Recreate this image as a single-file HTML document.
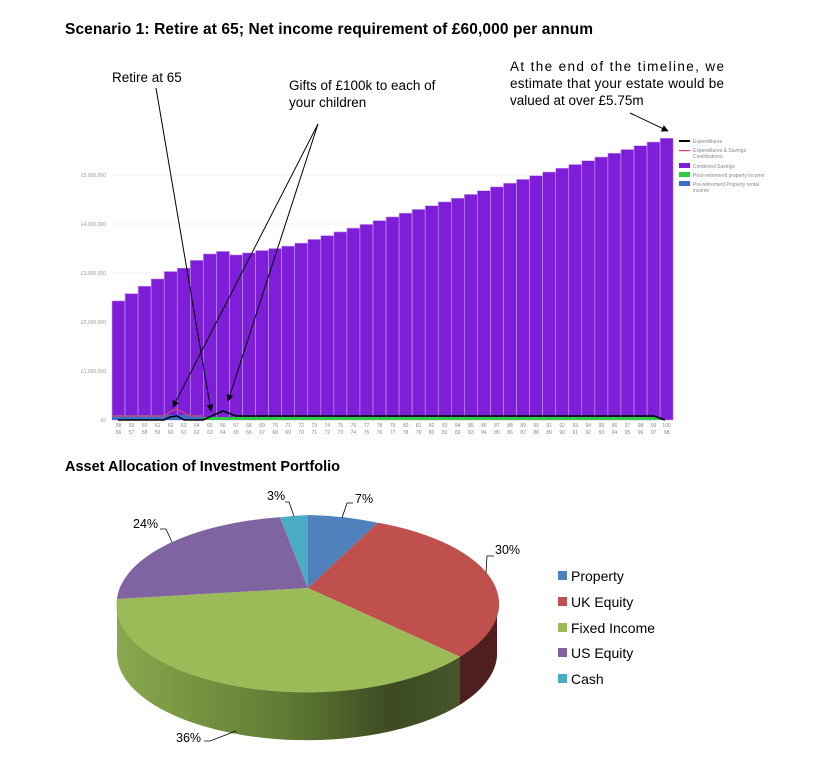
<!DOCTYPE html>
<html><head><meta charset="utf-8"><style>
html,body{margin:0;padding:0;background:#fff;width:813px;height:763px;overflow:hidden}
svg{display:block;font-family:"Liberation Sans",Arial,sans-serif}
</style></head><body>
<svg width="813" height="763" viewBox="0 0 813 763" xmlns="http://www.w3.org/2000/svg">
<defs>
<linearGradient id="fg" x1="0" x2="1" y1="0" y2="0">
<stop offset="0" stop-color="#8aa84e"/><stop offset="0.5" stop-color="#5f7a33"/><stop offset="0.8" stop-color="#3d4a22"/><stop offset="1" stop-color="#46562a"/></linearGradient>
<marker id="ah" viewBox="0 0 10 10" refX="9" refY="5" markerWidth="7" markerHeight="7" orient="auto"><path d="M0,0 L10,5 L0,10 Z" fill="#000"/></marker>
</defs>
<text x="65" y="34" font-size="15.5" font-weight="bold" textLength="528">Scenario 1: Retire at 65; Net income requirement of £60,000 per annum</text>
<text x="112" y="82" font-size="13.5">Retire at 65</text>
<text x="289" y="90" font-size="13.5">Gifts of £100k to each of</text>
<text x="289" y="107" font-size="13.5">your children</text>
<text x="510" y="71" font-size="13.5" textLength="214" lengthAdjust="spacing">At the end of the timeline, we</text>
<text x="510" y="88" font-size="13.5" textLength="214" lengthAdjust="spacing">estimate that your estate would be</text>
<text x="510" y="105" font-size="13.5">valued at over £5.75m</text>

<!-- grid -->
<g stroke="#eee" stroke-width="0.7">
<line x1="112" x2="673" y1="175" y2="175"/><line x1="112" x2="673" y1="224" y2="224"/><line x1="112" x2="673" y1="273" y2="273"/><line x1="112" x2="673" y1="322" y2="322"/><line x1="112" x2="673" y1="371" y2="371"/></g>
<g font-size="5" fill="#999" text-anchor="end">
<text x="106" y="177">£5,000,000</text><text x="106" y="226">£4,000,000</text><text x="106" y="275">£3,000,000</text><text x="106" y="324">£2,000,000</text><text x="106" y="373">£1,000,000</text><text x="106" y="422">£0</text></g>
<!-- bars -->
<g fill="#7e1ed8" stroke="#c8a2ee" stroke-width="0.6">
<rect x="112" y="300.9" width="13.05" height="119.1"/><rect x="125.05" y="293.6" width="13.05" height="126.4"/><rect x="138.1" y="286.2" width="13.05" height="133.8"/><rect x="151.15" y="278.9" width="13.05" height="141.1"/><rect x="164.2" y="271.5" width="13.05" height="148.5"/><rect x="177.25" y="268.1" width="13.05" height="151.9"/><rect x="190.3" y="260.3" width="13.05" height="159.7"/><rect x="203.35" y="253.9" width="13.05" height="166.1"/><rect x="216.4" y="251.4" width="13.05" height="168.6"/><rect x="229.45" y="254.9" width="13.05" height="165.1"/><rect x="242.5" y="252.9" width="13.05" height="167.1"/><rect x="255.55" y="250.5" width="13.05" height="169.5"/><rect x="268.6" y="248.5" width="13.05" height="171.5"/><rect x="281.65" y="246.1" width="13.05" height="173.9"/><rect x="294.7" y="243.1" width="13.05" height="176.9"/><rect x="307.75" y="239.4" width="13.05" height="180.6"/><rect x="320.8" y="235.6" width="13.05" height="184.4"/><rect x="333.85" y="231.9" width="13.05" height="188.1"/><rect x="346.9" y="228.1" width="13.05" height="191.9"/><rect x="359.95" y="224.4" width="13.05" height="195.6"/><rect x="373" y="220.6" width="13.05" height="199.4"/><rect x="386.05" y="216.9" width="13.05" height="203.1"/><rect x="399.1" y="213.1" width="13.05" height="206.9"/><rect x="412.15" y="209.4" width="13.05" height="210.6"/><rect x="425.2" y="205.7" width="13.05" height="214.3"/><rect x="438.25" y="201.9" width="13.05" height="218.1"/><rect x="451.3" y="198.2" width="13.05" height="221.8"/><rect x="464.35" y="194.4" width="13.05" height="225.6"/><rect x="477.4" y="190.7" width="13.05" height="229.3"/><rect x="490.45" y="186.9" width="13.05" height="233.1"/><rect x="503.5" y="183.2" width="13.05" height="236.8"/><rect x="516.55" y="179.4" width="13.05" height="240.6"/><rect x="529.6" y="175.7" width="13.05" height="244.3"/><rect x="542.65" y="172" width="13.05" height="248"/><rect x="555.7" y="168.2" width="13.05" height="251.8"/><rect x="568.75" y="164.5" width="13.05" height="255.5"/><rect x="581.8" y="160.7" width="13.05" height="259.3"/><rect x="594.85" y="157" width="13.05" height="263"/><rect x="607.9" y="153.2" width="13.05" height="266.8"/><rect x="620.95" y="149.5" width="13.05" height="270.5"/><rect x="634" y="145.7" width="13.05" height="274.3"/><rect x="647.05" y="142" width="13.05" height="278"/><rect x="660.1" y="138.2" width="13.05" height="281.8"/>
</g>
<rect x="112" y="415" width="92" height="5" fill="#3a6fd0"/>
<rect x="204" y="417" width="456" height="3" fill="#2ecc40"/>
<polyline points="112,416 165,416 171,411 177,409 184,413 190,416 204,416" fill="none" stroke="#e0406a" stroke-width="1.2"/>
<polyline points="118,420 164,420 170,417 177,416 184,420 203,420 216,414 223,411 236,416 654,416 665,420" fill="none" stroke="#000" stroke-width="1.6"/>
<g font-size="5" fill="#888" text-anchor="middle">
<text x="118.5" y="427">58</text><text x="131.5" y="427">59</text><text x="144.6" y="427">60</text><text x="157.7" y="427">61</text><text x="170.7" y="427">62</text><text x="183.8" y="427">63</text><text x="196.8" y="427">64</text><text x="209.9" y="427">65</text><text x="222.9" y="427">66</text><text x="236" y="427">67</text><text x="249" y="427">68</text><text x="262.1" y="427">69</text><text x="275.1" y="427">70</text><text x="288.2" y="427">71</text><text x="301.2" y="427">72</text><text x="314.3" y="427">73</text><text x="327.3" y="427">74</text><text x="340.4" y="427">75</text><text x="353.4" y="427">76</text><text x="366.5" y="427">77</text><text x="379.5" y="427">78</text><text x="392.6" y="427">79</text><text x="405.6" y="427">80</text><text x="418.7" y="427">81</text><text x="431.7" y="427">82</text><text x="444.8" y="427">83</text><text x="457.8" y="427">84</text><text x="470.9" y="427">85</text><text x="483.9" y="427">86</text><text x="497" y="427">87</text><text x="510" y="427">88</text><text x="523.1" y="427">89</text><text x="536.1" y="427">90</text><text x="549.2" y="427">91</text><text x="562.2" y="427">92</text><text x="575.3" y="427">93</text><text x="588.3" y="427">94</text><text x="601.4" y="427">95</text><text x="614.4" y="427">96</text><text x="627.5" y="427">97</text><text x="640.5" y="427">98</text><text x="653.6" y="427">99</text><text x="666.6" y="427">100</text>
<text x="118.5" y="434">56</text><text x="131.5" y="434">57</text><text x="144.6" y="434">58</text><text x="157.7" y="434">59</text><text x="170.7" y="434">60</text><text x="183.8" y="434">61</text><text x="196.8" y="434">62</text><text x="209.9" y="434">63</text><text x="222.9" y="434">64</text><text x="236" y="434">65</text><text x="249" y="434">66</text><text x="262.1" y="434">67</text><text x="275.1" y="434">68</text><text x="288.2" y="434">69</text><text x="301.2" y="434">70</text><text x="314.3" y="434">71</text><text x="327.3" y="434">72</text><text x="340.4" y="434">73</text><text x="353.4" y="434">74</text><text x="366.5" y="434">75</text><text x="379.5" y="434">76</text><text x="392.6" y="434">77</text><text x="405.6" y="434">78</text><text x="418.7" y="434">79</text><text x="431.7" y="434">80</text><text x="444.8" y="434">81</text><text x="457.8" y="434">82</text><text x="470.9" y="434">83</text><text x="483.9" y="434">84</text><text x="497" y="434">85</text><text x="510" y="434">86</text><text x="523.1" y="434">87</text><text x="536.1" y="434">88</text><text x="549.2" y="434">89</text><text x="562.2" y="434">90</text><text x="575.3" y="434">91</text><text x="588.3" y="434">92</text><text x="601.4" y="434">93</text><text x="614.4" y="434">94</text><text x="627.5" y="434">95</text><text x="640.5" y="434">96</text><text x="653.6" y="434">97</text><text x="666.6" y="434">98</text></g>
<!-- legend -->
<g font-size="5" fill="#888">
<rect x="679" y="140" width="11" height="2" fill="#000"/><text x="693" y="143">Expenditures</text>
<rect x="679" y="150" width="11" height="1.2" fill="#e0406a"/><text x="693" y="152">Expenditures &amp; Savings</text><text x="693" y="158">Contributions</text>
<rect x="679" y="163" width="11" height="5" fill="#7e1ed8"/><text x="693" y="168">Combined Savings</text>
<rect x="679" y="172" width="11" height="5" fill="#2ecc40"/><text x="693" y="177">Post-retirement property income</text>
<rect x="679" y="181" width="11" height="5" fill="#3a6fd0"/><text x="693" y="186">Pre-retirement Property rental</text><text x="693" y="192">income</text></g>
<!-- arrows -->
<g stroke="#000" stroke-width="1" fill="none" marker-end="url(#ah)">
<line x1="156" y1="88" x2="211" y2="411"/>
<line x1="318" y1="124" x2="173" y2="407"/>
<line x1="318" y1="124" x2="228" y2="401"/>
<line x1="630" y1="113" x2="668" y2="131"/>
</g>

<text x="65" y="471" font-size="14.5" font-weight="bold">Asset Allocation of Investment Portfolio</text>
<!-- pie -->
<path d="M497,602 A190 87 0 0 1 460,656.7 L460,704.7 A190 87 0 0 0 497,650 Z" fill="#4e1f1e"/>
<path d="M460,656.7 A190 87 0 0 1 117,602 L117,650 A190 87 0 0 0 460,704.7 Z" fill="url(#fg)"/>
<path d="M308,588 L308,515 A190 87 0 0 1 377.7,522.7 Z" fill="#4f81bd"/>
<path d="M308,588 L377.7,522.7 A190 87 0 0 1 460,656.7 Z" fill="#c0504d"/>
<path d="M308,588 L460,656.7 A190 87 0 0 1 117,599 Z" fill="#9bbb59"/>
<path d="M308,588 L117,599 A190 87 0 0 1 280,517.3 Z" fill="#8064a2"/>
<path d="M308,588 L280,517.3 A190 87 0 0 1 308,515 Z" fill="#4bacc6"/>
<g stroke="#000" stroke-width="0.8" fill="none">
<polyline points="342,518 347,503 353,503"/><polyline points="486,573 487,556 494,556"/>
<polyline points="172,542 166,529 160,529"/><polyline points="294,516 289,502 285,502"/>
<polyline points="236,731 210,741 204,741"/></g>
<g font-size="12.5" fill="#000">
<text x="355" y="503">7%</text><text x="495" y="554">30%</text><text x="133" y="528">24%</text><text x="267" y="500">3%</text><text x="176" y="742">36%</text></g>
<g font-size="14" fill="#000">
<rect x="558" y="571" width="9" height="9" fill="#4f81bd"/><text x="571" y="581">Property</text>
<rect x="558" y="597" width="9" height="9" fill="#c0504d"/><text x="571" y="607">UK Equity</text>
<rect x="558" y="623" width="9" height="9" fill="#9bbb59"/><text x="571" y="633">Fixed Income</text>
<rect x="558" y="648" width="9" height="9" fill="#8064a2"/><text x="571" y="658">US Equity</text>
<rect x="558" y="674" width="9" height="9" fill="#4bacc6"/><text x="571" y="684">Cash</text></g>
</svg>
</body></html>
